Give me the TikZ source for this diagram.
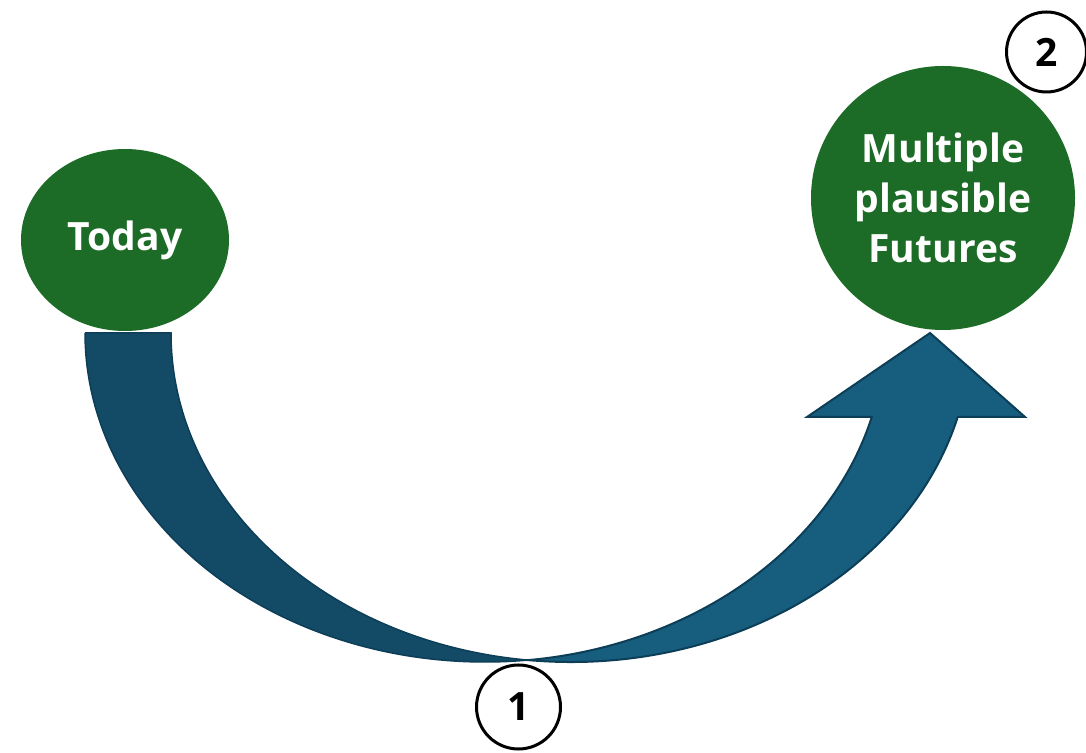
\documentclass[tikz,border=0pt]{standalone}
\usepackage{fontspec}
\setmainfont{Open Sans}
\usetikzlibrary{shapes.geometric}
\definecolor{gfill}{RGB}{28,107,38}
\definecolor{adark}{RGB}{19,74,102}
\definecolor{alight}{RGB}{23,94,126}
\definecolor{aline}{RGB}{13,62,87}
\begin{document}
\begin{tikzpicture}[x=1pt,y=1pt,
  bubble/.style={fill=gfill, text=white, font=\bfseries\fontsize{39}{50}\selectfont, align=center, inner sep=0pt},
  numcirc/.style={circle, draw=black, line width=3pt, font=\bfseries\fontsize{39}{40}\selectfont, inner sep=0pt},
  bandd/.style={fill=adark, draw=aline, line width=1.5pt, line join=miter},
  bandl/.style={fill=alight, draw=aline, line width=2pt, line join=miter}]
\useasboundingbox (0,0) rectangle (1086,752);
% curved arrow: light right arm
\draw[bandl] (528,91.9) arc[start angle=263.83, end angle=345.21, x radius=400pt, y radius=329pt]
  -- (1025,335) -- (930,419) -- (807,335) -- (871.75,335)
  arc[start angle=345.21, end angle=276.17, x radius=400pt, y radius=329pt] -- cycle;
% dark left tail
\draw[bandd] (85,419) -- (171,419)
  arc[start angle=180, end angle=263.83, x radius=400pt, y radius=329pt]
  arc[start angle=276.17, end angle=180, x radius=400pt, y radius=329pt] -- cycle;
% nodes
\node[bubble, ellipse, minimum width=208pt, minimum height=182pt] (today) at (125,512) {Today};
\node[bubble, circle, minimum size=264pt] (fut) at (943,554) {Multiple\\plausible\\Futures};
\node[numcirc, minimum size=84pt] (n1) at (518.5,45) {1};
\node[numcirc, minimum size=80pt] (n2) at (1046.5,700) {2};
\end{tikzpicture}
\end{document}
